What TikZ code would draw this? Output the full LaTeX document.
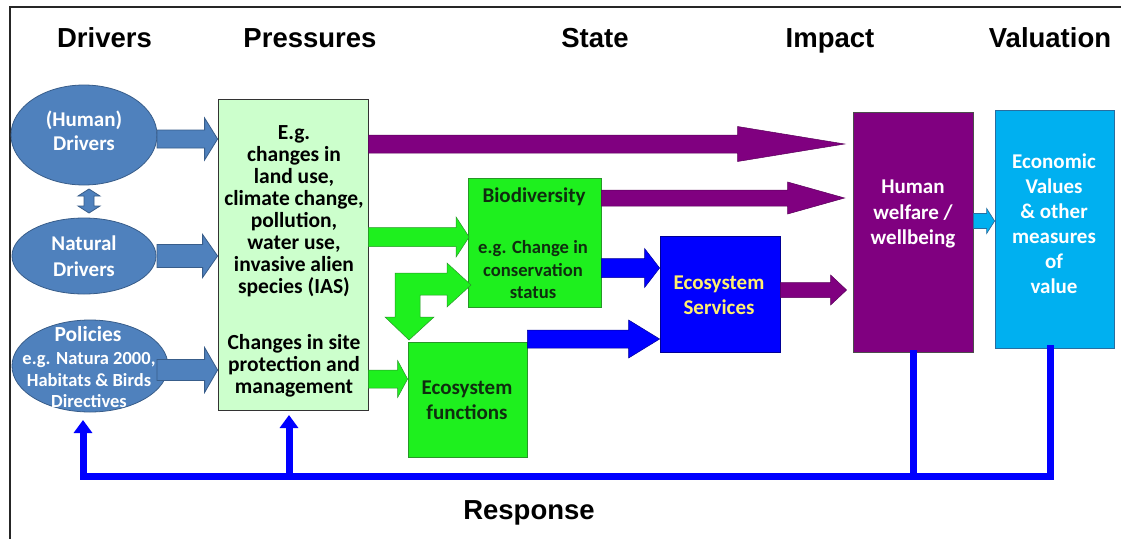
\documentclass[tikz,border=0pt]{standalone}
\usepackage{fontspec}
\newfontfamily\calf{Carlito}
\newfontfamily\hdrf{Liberation Sans}
\usetikzlibrary{calc,arrows.meta,shapes.geometric}
\definecolor{drvblue}{RGB}{79,129,189}
\definecolor{drvedge}{RGB}{56,93,138}
\definecolor{palegreen}{RGB}{204,255,204}
\definecolor{limeg}{RGB}{30,240,30}
\definecolor{limeedge}{RGB}{40,150,40}
\definecolor{pblue}{RGB}{0,0,255}
\definecolor{pblueedge}{RGB}{0,0,150}
\definecolor{purp}{RGB}{128,0,128}
\definecolor{purpedge}{RGB}{90,0,90}
\definecolor{cyanv}{RGB}{0,176,240}
\definecolor{cyanedge}{RGB}{40,110,160}
\definecolor{ytext}{RGB}{255,240,110}
\definecolor{gtext}{RGB}{15,45,15}
% horizontal block arrow: style, start coord, tip coord, shaft half, head half, head length
\newcommand\harrow[6]{\filldraw[#1] let \p1=(#2), \p2=(#3) in
  (\x1,\y1+#4) -- (\x2-#6,\y1+#4) -- (\x2-#6,\y1+#5) -- (\x2,\y1) --
  (\x2-#6,\y1-#5) -- (\x2-#6,\y1-#4) -- (\x1,\y1-#4) -- cycle;}
\begin{document}
\begin{tikzpicture}[x=1pt,y=-1pt,
  drv/.style={ellipse,fill=drvblue,draw=drvedge,line width=0.8pt,inner sep=0pt},
  box/.style={rectangle,inner sep=0pt,line width=0.8pt},
  lbl/.style={inner sep=0pt,align=center,font=\calf\bfseries},
  hdr/.style={inner sep=0pt,anchor=base,font=\hdrf\bfseries\fontsize{27.5}{33}\selectfont},
  drvarr/.style={fill=drvblue,draw=drvedge,line width=0.8pt},
  purarr/.style={fill=purp,draw=purpedge,line width=0.5pt},
  grnarr/.style={fill=limeg,draw=limeedge,line width=0.5pt},
  bluarr/.style={fill=pblue,draw=pblueedge,line width=0.5pt},
  cyaarr/.style={fill=cyanv,draw=cyanedge,line width=0.7pt},
  fb/.style={draw=pblue,line width=7pt,line join=miter},
  fbtip/.style={-{Triangle[width=18pt,length=13pt]}}
]
\useasboundingbox (0,0) rectangle (1121,538);
\fill[white] (0,0) rectangle (1121,538);
% frame
\draw[line width=1.6pt,draw=black!85] (10,7) rectangle (1140,560);

% headers
\node[hdr] (hDrivers) at (104.5,47) {Drivers};
\node[hdr] (hPressures) at (310,47) {Pressures};
\node[hdr] (hState) at (595,47) {State};
\node[hdr] (hImpact) at (830,47) {Impact};
\node[hdr] (hValuation) at (1050,47) {Valuation};
\node[hdr] (hResponse) at (529,519) {Response};

% driver ellipses
\node[drv,minimum width=146pt,minimum height=100pt] (hd) at (84,135) {};
\node[drv,minimum width=144pt,minimum height=76pt] (nd) at (84,256) {};
\node[drv,minimum width=156pt,minimum height=92pt] (pol) at (90,366) {};

% boxes
\node[box,fill=palegreen,draw=black!80,minimum width=150pt,minimum height=311pt] (press) at (293,254.5) {};
\node[box,fill=limeg,draw=limeedge,minimum width=133pt,minimum height=129pt] (bio) at (534.5,242.5) {};
\node[box,fill=limeg,draw=limeedge,minimum width=119pt,minimum height=115pt] (efun) at (467.5,399.5) {};
\node[box,fill=pblue,draw=pblueedge,minimum width=120pt,minimum height=116pt] (eser) at (720,294) {};
\node[box,fill=purp,draw=black!70,minimum width=120pt,minimum height=240pt] (hw) at (913,232) {};
\node[box,fill=cyanv,draw=cyanedge,minimum width=119pt,minimum height=238pt] (val) at (1054.5,229) {};

% arrow end coordinates
\coordinate (ahs) at (157,139);  \coordinate (aht) at (press.west |- 0,139);
\coordinate (ans) at (157,256);  \coordinate (ant) at (press.west |- 0,256);
\coordinate (aps) at (157,370);  \coordinate (apt) at (press.west |- 0,370);
\coordinate (p1s) at (press.east |- 0,144); \coordinate (p1t) at ($(hw.west |- 0,144)+(-8,0)$);
\coordinate (p2s) at (bio.east |- 0,198);   \coordinate (p2t) at ($(hw.west |- 0,198)+(-8,0)$);
\coordinate (p3s) at (eser.east |- 0,290);  \coordinate (p3t) at ($(hw.west |- 0,290)+(-6,0)$);
\coordinate (g1s) at (press.east |- 0,237); \coordinate (g1t) at ($(bio.west |- 0,237)+(1.5,0)$);
\coordinate (g2s) at (press.east |- 0,379); \coordinate (g2t) at (efun.west |- 0,379);
\coordinate (b1s) at (bio.east |- 0,268);   \coordinate (b1t) at (eser.west |- 0,268);
\coordinate (b2s) at (efun.east |- 0,339);  \coordinate (b2t) at (eser.west |- 0,339);
\coordinate (c1s) at (hw.east |- 0,221);    \coordinate (c1t) at (val.west |- 0,221);

% block arrows
\harrow{drvarr}{ahs}{aht}{9}{21}{13}
\harrow{drvarr}{ans}{ant}{11.5}{21.5}{15}
\harrow{drvarr}{aps}{apt}{10.5}{22.5}{13}
\harrow{purarr}{p1s}{p1t}{9}{17.5}{107}
\harrow{purarr}{p2s}{p2t}{8}{16}{57}
\harrow{purarr}{p3s}{p3t}{7.5}{15}{16}
\harrow{grnarr}{g1s}{g1t}{9.5}{20}{13}
\harrow{grnarr}{g2s}{g2t}{9}{18.5}{10}
\harrow{bluarr}{b1s}{b1t}{9.5}{19.5}{15}
\harrow{bluarr}{b2s}{b2t}{9}{19}{31}
\harrow{cyaarr}{c1s}{c1t}{7.5}{12.5}{8}

% double arrow between human and natural drivers
\filldraw[drvarr] (89,189) -- (100,196) -- (94,196) -- (94,206) -- (100,206) -- (89,213)
  -- (78,206) -- (84,206) -- (84,196) -- (78,196) -- cycle;

% bent double arrow between biodiversity and ecosystem functions
\filldraw[grnarr] (409,340) -- (434,317) -- (420,317) -- (420,295) -- (447,295) -- (447,307)
  -- (471,285) -- (447,263) -- (447,273) -- (395,273) -- (395,317) -- (385,317) -- cycle;

% response feedback
\coordinate (fbR) at (1050,476);
\coordinate (fbH) at (913,476);
\coordinate (fbP) at (289,476);
\coordinate (fbL) at (83,476);
\coordinate (tipL) at (83,420);
\coordinate (tipP) at (289,415);
\coordinate (vtop) at (1050,345);
\coordinate (htop) at (913,350);
\draw[fb,fbtip] (vtop) -- (fbR) -- (fbL) -- (tipL);
\draw[fb] (htop) -- (fbH);
\draw[fb,fbtip] (fbP) -- (tipP);

% texts
\node[lbl,text=white,font=\calf\bfseries\fontsize{21}{24}\selectfont] (thd) at (84,131) {(Human)\\Drivers};
\node[lbl,text=white,font=\calf\bfseries\fontsize{21}{26}\selectfont] (tnd) at (84,256) {Natural\\Drivers};
\node[lbl,text=white,font=\calf\bfseries\fontsize{21.5}{24}\selectfont] (tpol1) at (88,334) {Policies};
\node[lbl,text=white,font=\calf\bfseries\fontsize{18.5}{21.5}\selectfont] (tpol2) at (89,380) {e.g. Natura 2000,\\Habitats \& Birds\\Directives};
\node[lbl,font=\calf\bfseries\fontsize{21.5}{22}\selectfont] (tpr1) at (294,211) {E.g.\\changes in\\land use,\\climate change,\\pollution,\\water use,\\invasive alien\\species (IAS)};
\node[lbl,font=\calf\bfseries\fontsize{21.5}{22}\selectfont] (tpr2) at (294,366) {Changes in site\\protection and\\management};
\node[lbl,text=gtext,font=\calf\bfseries\fontsize{21}{24}\selectfont] (tbio1) at (534,197) {Biodiversity};
\node[lbl,text=gtext,font=\calf\bfseries\fontsize{18.6}{22.5}\selectfont] (tbio2) at (533,270) {e.g. Change in\\conservation\\status};
\node[lbl,text=gtext,font=\calf\bfseries\fontsize{21}{25}\selectfont] (tefun) at (467,400) {Ecosystem\\functions};
\node[lbl,text=ytext,font=\calf\bfseries\fontsize{21}{25}\selectfont] (teser) at (719,295) {Ecosystem\\Services};
\node[lbl,text=white,font=\calf\bfseries\fontsize{21}{25.5}\selectfont] (thw) at (913,214) {Human\\welfare /\\wellbeing};
\node[lbl,text=white,font=\calf\bfseries\fontsize{21}{25}\selectfont] (tval) at (1054,224) {Economic\\Values\\\& other\\measures\\of\\value};
\end{tikzpicture}
\end{document}
